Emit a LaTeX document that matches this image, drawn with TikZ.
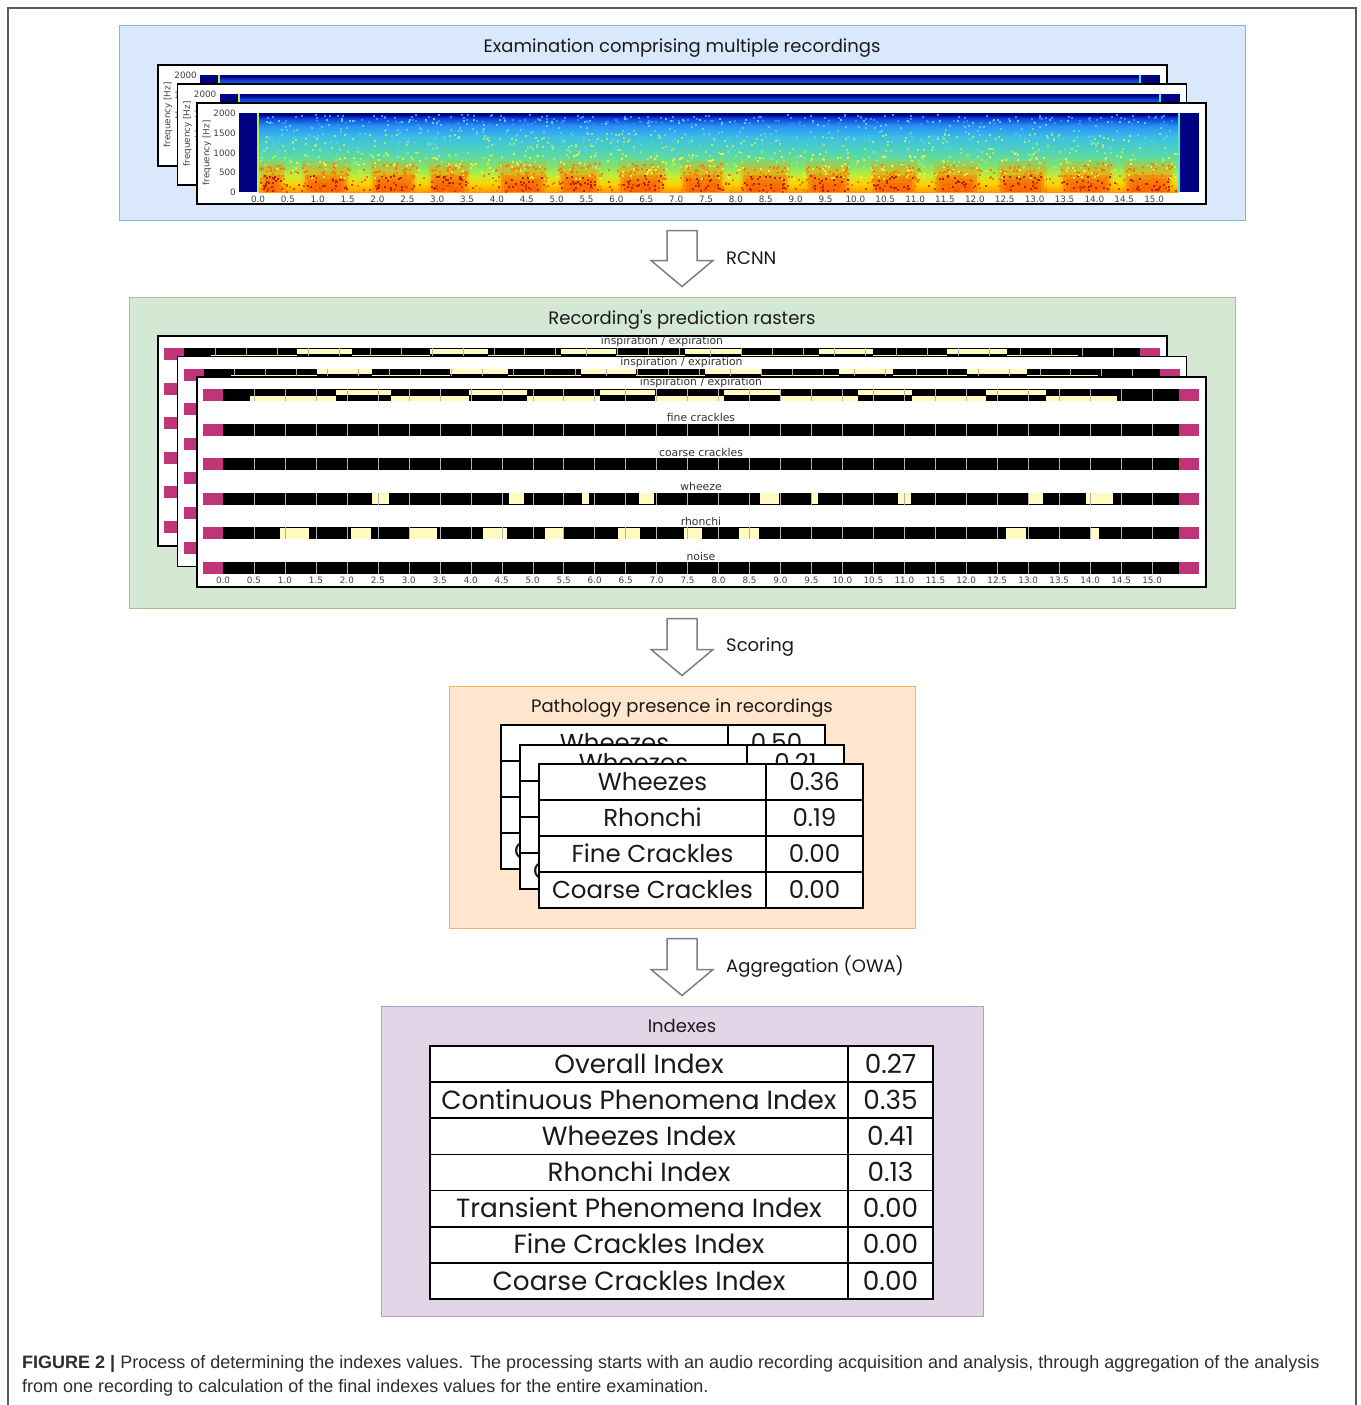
\documentclass[tikz,border=0pt]{standalone}
\usepackage{fontspec}
\usepackage{tikz}
\usetikzlibrary{calc,positioning}

\newfontfamily\diagfont{Poppins}
\newfontfamily\plotfont{DejaVu Sans}
\newfontfamily\capfont{Liberation Sans}

\definecolor{examfill}{HTML}{DAE8FC}
\definecolor{examline}{HTML}{8DB0E3}
\definecolor{rasterfill}{HTML}{D5E8D4}
\definecolor{rasterline}{HTML}{9CC58F}
\definecolor{scorefill}{HTML}{FFE6CC}
\definecolor{scoreline}{HTML}{F2B45C}
\definecolor{indexfill}{HTML}{E1D5E7}
\definecolor{indexline}{HTML}{B89CCB}
\definecolor{arrowline}{HTML}{7F7F7F}
\definecolor{framegray}{HTML}{5A5A5A}
\definecolor{titletext}{HTML}{1A1A1A}
\definecolor{celltext}{HTML}{1A1A1A}
\definecolor{tickgray}{HTML}{404040}
\definecolor{rowtext}{HTML}{333333}
\definecolor{captext}{HTML}{2E2E2E}
\definecolor{rastermag}{HTML}{C0347A}
\definecolor{rasteryel}{HTML}{FFFAC0}
\definecolor{jetA}{HTML}{FF9A00}
\definecolor{jetB}{HTML}{FFD200}
\definecolor{jetC}{HTML}{C8EC32}
\definecolor{jetD}{HTML}{84E46A}
\definecolor{jetE}{HTML}{52D6B0}
\definecolor{jetF}{HTML}{3CBEE6}
\definecolor{jetG}{HTML}{2890F5}
\definecolor{jetH}{HTML}{0A3CD2}
\definecolor{jetnavy}{HTML}{000082}
\definecolor{jetedge}{HTML}{B4F03C}
\definecolor{jetcyan}{HTML}{50E6D2}
\definecolor{burstA}{HTML}{FF8C00}
\definecolor{burstB}{HTML}{F03C00}
\definecolor{spblue}{HTML}{3C8CF5}
\definecolor{spcyan}{HTML}{5CCCEA}
\definecolor{spgreen}{HTML}{A0EB78}
\definecolor{spyel}{HTML}{FAEB32}
\definecolor{sporange}{HTML}{FF7800}
\definecolor{spred}{HTML}{E63C00}
\definecolor{spdark}{HTML}{C01E00}

\pgfdeclareverticalshading{jetspec}{100bp}{color(0bp)=(jetA); color(25bp)=(jetA); color(30bp)=(jetB); color(35bp)=(jetC); color(41bp)=(jetD); color(50bp)=(jetE); color(60bp)=(jetF); color(67bp)=(jetG); color(72bp)=(jetH); color(74bp)=(jetnavy); color(100bp)=(jetnavy)}

\tikzset{
  stagebox/.style={rectangle, line width=1, inner sep=0},
  boxtitle/.style={font=\diagfont\fontsize{18}{21}\selectfont, text=titletext, inner sep=0},
  steplabel/.style={font=\diagfont\fontsize{18}{21}\selectfont, text=titletext, inner sep=0},
  flowarrow/.style={draw=arrowline, fill=white, line width=1.5, line join=miter},
  plotframe/.style={draw=black, fill=white, line width=1.8},
  ticklabel/.style={font=\plotfont\fontsize{8.8}{10}\selectfont, text=tickgray, inner sep=0},
  rowlabel/.style={font=\plotfont\fontsize{10.8}{12}\selectfont, text=rowtext, inner sep=0},
  gridline/.style={draw=gray!60, line width=0.4},
  tablegrid/.style={draw=black, line width=1.6},
  scorecell/.style={font=\diagfont\fontsize{24.5}{28}\selectfont, text=celltext, inner sep=0, text height=17.2, text depth=0},
  indexcell/.style={font=\diagfont\fontsize{26.3}{30}\selectfont, text=celltext, inner sep=0, text height=18.4, text depth=0},
  captext/.style={font=\capfont\fontsize{18}{21}\selectfont, text=captext, inner sep=0},
  outerframe/.style={draw=framegray, line width=1.5},
}

\newcommand\flowstep[4]{%
  \draw[flowarrow] let \p1=(#1.south), \p2=(#2.north) in
    (\x1-15,\y1-10) -- (\x1+15,\y1-10) -- (\x1+15,\y2+36) -- (\x1+31,\y2+36)
    -- (\x1,\y2+10) -- (\x1-31,\y2+36) -- (\x1-15,\y2+36) -- cycle;
  \path let \p1=(#1.south), \p2=(#2.north) in
    node[steplabel, anchor=west] (#4) at ({\x1+44},{(\y1+\y2)/2}) {#3};}

\newcommand\spectropanel[3]{%
\begin{scope}[shift={#1}]
  \draw[plotframe] (0,0) rectangle (1009,101);
  \fill[jetnavy] (42,10) rectangle (1002,89);
  \shade[shading=jetspec] (62,10) rectangle (981,89);
  \ifnum#2=1
    \pgfmathsetseed{7}
    \foreach \a/\b in {62/88,105/153,173/220,231/273,301/350,361/403,421/468,483/528,
      543/593,608/653,673/721,736/783,800/850,863/916,926/976}{
      \foreach \j in {0,...,3}
        \fill[burstA, opacity=.2] (\a+2*\j,58+5*\j) rectangle (\b-2*\j,89);
      \foreach \j in {0,...,2}
        \fill[burstB, opacity=.22] (\a+3+3*\j,72+4*\j) rectangle (\b-3-3*\j,89);
      \foreach \i in {1,...,45}{
        \pgfmathsetmacro\sx{\a+rnd*(\b-\a)}
        \pgfmathsetmacro\sy{60+rnd*27}
        \fill[sporange] (\sx,\sy) rectangle ++(2,2);
      }
      \foreach \i in {1,...,22}{
        \pgfmathsetmacro\sx{\a+3+rnd*(\b-\a-6)}
        \pgfmathsetmacro\sy{72+rnd*15}
        \fill[spdark] (\sx,\sy) rectangle ++(2,2);
      }
    }
    \foreach \n/\ya/\yh/\col in {320/11/14/spblue,420/15/40/spcyan,400/30/35/spgreen,260/50/25/spyel,200/65/22/sporange,100/78/10/spred}{
      \foreach \i in {1,...,\n}{
        \pgfmathsetmacro\sx{62+rnd*917}
        \pgfmathsetmacro\sy{\ya+rnd*\yh}
        \fill[\col] (\sx,\sy) rectangle ++(2,2);
      }
    }
  \fi
  \fill[jetedge] (60,10) rectangle (62,89);
  \fill[jetcyan] (981,10) rectangle (983,89);
  \foreach \k in {0,...,30}{
    \pgfmathtruncatemacro\ip{\k/2}
    \pgfmathtruncatemacro\fp{5*mod(\k,2)}
    \node[ticklabel] (#3t\k) at (61+29.87*\k,96) {\ip.\fp};
  }
  \foreach \v/\y in {2000/10,1500/30,1000/50,500/69,0/89}
    \node[ticklabel, anchor=east] (#3f\v) at (39,\y) {\v};
  \node[ticklabel, rotate=90] (#3axis) at (10,50) {frequency [Hz]};
\end{scope}}

\newcommand\rasterpanel[2]{%
\begin{scope}[shift={#1}]
  \draw[plotframe] (0,0) rectangle (1009,210);
  \foreach \r in {0,...,5}{
    \pgfmathsetmacro\ytop{12+34.6*\r}
    \fill[black] (26,\ytop) rectangle (982,\ytop+12);
    \fill[rastermag] (6,\ytop) rectangle (26,\ytop+12);
    \fill[rastermag] (982,\ytop) rectangle (1002,\ytop+12);
  }
  \foreach \a/\b in {53/139,194/272,330/403,458/527,584/661,715/789,849/920}
    \fill[rasteryel] (\a,18.5) rectangle (\b,23.5);
  \foreach \a/\b in {139/194,272/330,403/458,527/584,661/715,789/849}
    \fill[rasteryel] (\a,12.5) rectangle (\b,17.5);
  \foreach \a/\b in {175/192,312/327,385/392,442/457,563/582,614/621,701/714,832/846,889/916}
    \fill[rasteryel] (\a,116.3) rectangle (\b,127.3);
  \foreach \a/\b in {83/112,154/174,213/240,286/310,348/367,421/443,487/505,542/562,809/829,893/902}
    \fill[rasteryel] (\a,150.9) rectangle (\b,161.9);
  \foreach \r in {0,...,5}
    \foreach \k in {1,...,30}
      \draw[gridline] (26+30.97*\k,12+34.6*\r) -- ++(0,12);
  \node[rowlabel] (#2insp) at (504,6) {inspiration / expiration};
  \foreach \r/\lab in {1/fine crackles,2/coarse crackles,3/wheeze,4/rhonchi,5/noise}
    \node[rowlabel] (#2row\r) at (504,6+34.6*\r) {\lab};
  \foreach \k in {0,...,30}{
    \pgfmathtruncatemacro\ip{\k/2}
    \pgfmathtruncatemacro\fp{5*mod(\k,2)}
    \node[ticklabel] (#2t\k) at (26+30.97*\k,203) {\ip.\fp};
  }
\end{scope}}

\newcommand\scoretable[6]{%
\begin{scope}[shift={#1}]
  \draw[tablegrid, fill=white] (0,0) rectangle (324,144);
  \foreach \r in {1,2,3}
    \draw[tablegrid] (0,36*\r) -- (324,36*\r);
  \draw[tablegrid] (227,0) -- (227,144);
  \foreach \lab [count=\r from 0] in {Wheezes,Rhonchi,Fine Crackles,Coarse Crackles}
    \node[scorecell] (#2l\r) at (113.5,18+36*\r) {\lab};
  \node[scorecell] (#2v0) at (275.5,18) {#3};
  \node[scorecell] (#2v1) at (275.5,54) {#4};
  \node[scorecell] (#2v2) at (275.5,90) {#5};
  \node[scorecell] (#2v3) at (275.5,126) {#6};
\end{scope}}

\begin{document}
\begin{tikzpicture}[x=1pt,y=-1pt]
\useasboundingbox[fill=white] (0,0) rectangle (1360,1405);
\draw[outerframe] (8,1405) -- (8,8) -- (1356,8) -- (1356,1405);

\node[stagebox, fill=examfill, draw=examline, minimum width=1126, minimum height=194] (exambox) at (682,123) {};
\node[boxtitle] (examtitle) at ([yshift=-23]exambox.north) {Examination comprising multiple recordings};
\spectropanel{(158,65)}{0}{sa}
\spectropanel{(177.5,84)}{0}{sb}
\spectropanel{(197,103)}{1}{sc}

\node[stagebox, fill=rasterfill, draw=rasterline, minimum width=1106, minimum height=311] (rasterbox) at (682,452.5) {};
\node[boxtitle] (rastertitle) at ([yshift=-23]rasterbox.north) {Recording's prediction rasters};
\rasterpanel{(158,336)}{ra}
\rasterpanel{(177.5,356.5)}{rb}
\rasterpanel{(197,377)}{rc}

\node[stagebox, fill=scorefill, draw=scoreline, minimum width=466, minimum height=242] (scorebox) at (682,807) {};
\node[boxtitle] (scoretitle) at ([yshift=-23]scorebox.north) {Pathology presence in recordings};
\scoretable{(501,725)}{sca}{0.50}{}{}{}
\scoretable{(520,745)}{scb}{0.21}{}{}{}
\scoretable{(539,764)}{scc}{0.36}{0.19}{0.00}{0.00}

\node[stagebox, fill=indexfill, draw=indexline, minimum width=602, minimum height=310] (indexbox) at (682,1161) {};
\node[boxtitle] (indextitle) at ([yshift=-20]indexbox.north) {Indexes};
\draw[tablegrid, fill=white] (430,1046) rectangle (933,1299);
\foreach \r in {1,...,6}
  \draw[tablegrid] (430,1046+36.14*\r) -- (933,1046+36.14*\r);
\draw[tablegrid] (848,1046) -- (848,1299);
\foreach \lab/\val [count=\r from 0] in {Overall Index/0.27,Continuous Phenomena Index/0.35,Wheezes Index/0.41,
  Rhonchi Index/0.13,Transient Phenomena Index/0.00,Fine Crackles Index/0.00,Coarse Crackles Index/0.00}{
  \node[indexcell] (idxl\r) at (639,1064.07+36.14*\r) {\lab};
  \node[indexcell] (idxv\r) at (890.5,1064.07+36.14*\r) {\val};
}

\flowstep{exambox}{rasterbox}{RCNN}{rcnn}
\flowstep{rasterbox}{scorebox}{Scoring}{scoring}
\flowstep{scorebox}{indexbox}{Aggregation (OWA)}{aggregation}

\node[captext, anchor=base west] (captionA) at (22,1368) {{\bfseries FIGURE 2 |} Process of determining the indexes values. The processing starts with an audio recording acquisition and analysis, through aggregation of the analysis};
\node[captext, anchor=base west] (captionB) at (22,1392) {from one recording to calculation of the final indexes values for the entire examination.};
\end{tikzpicture}
\end{document}
